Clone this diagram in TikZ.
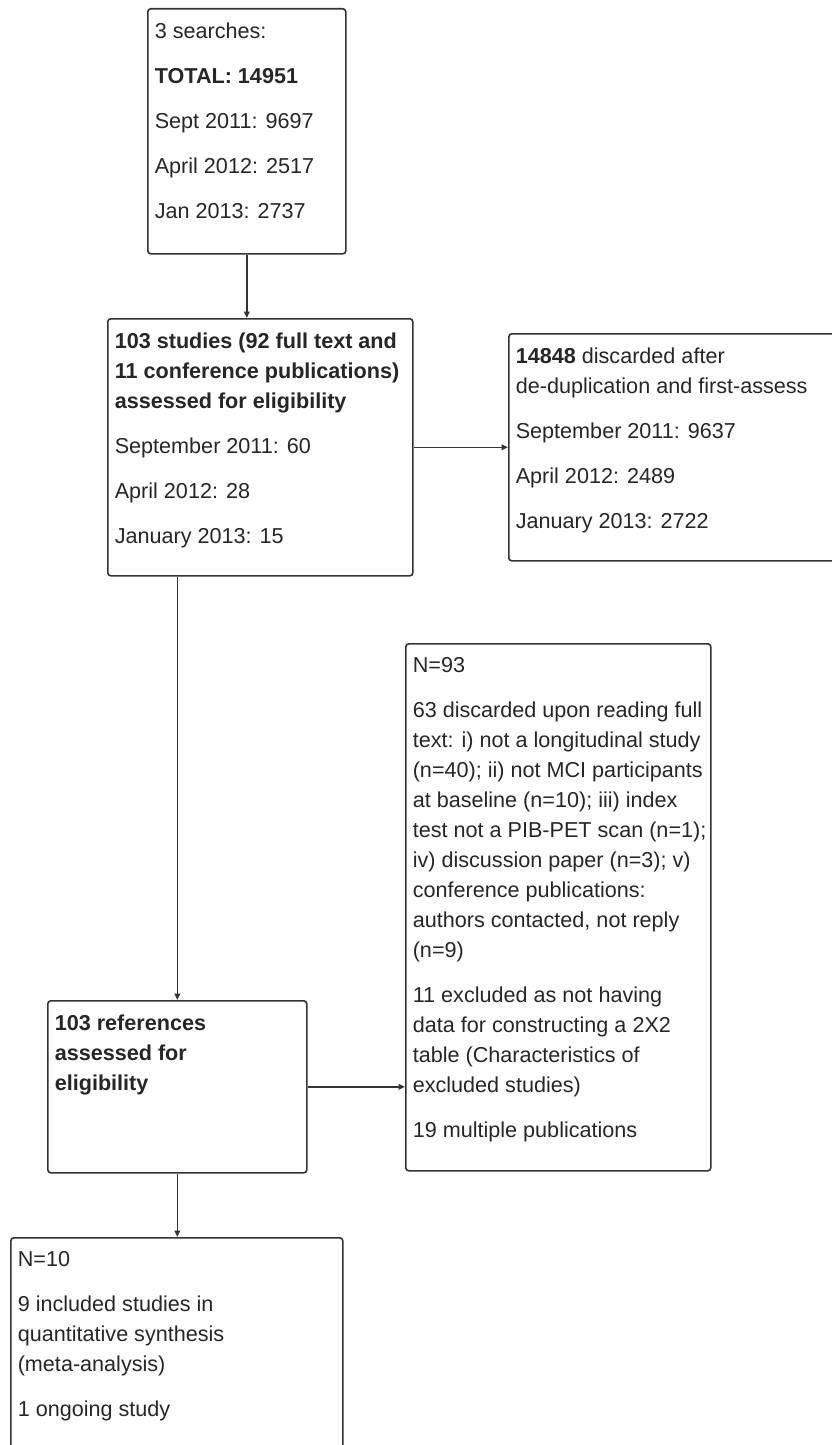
\documentclass[tikz,border=0pt]{standalone}
\usepackage{fontspec}
\setmainfont{Liberation Sans}
\usetikzlibrary{arrows.meta}

\tikzset{
  flowbox/.style={draw=black!80, line width=0.8pt, rounded corners=1.5pt, anchor=north west,
    inner xsep=3.5pt, inner ysep=7pt, text=black!85, font=\fontsize{10.8}{15}\selectfont},
  flowarrow/.style={-{Triangle[length=3.2pt,width=2.8pt]}, line width=0.8pt, draw=black!80}
}
\newcommand{\boxtext}[3]{\makebox[#1][l]{\begin{minipage}[t][#2][t]{\dimexpr#1+30pt\relax}\raggedright\setlength{\parskip}{7.5pt}#3\end{minipage}}}

\begin{document}
\begin{tikzpicture}[x=0.5pt, y=-0.5pt]
\useasboundingbox (0,0) rectangle (831,1445);

% searches
\node[flowbox] (search) at (147,8) {\boxtext{92pt}{108.5pt}{3 searches:\par
  \textbf{TOTAL: 14951}\par
  Sept 2011: 9697\par
  April 2012: 2517\par
  Jan 2013: 2737}};

% studies assessed
\node[flowbox] (studies) at (107,318) {\boxtext{145.5pt}{114.5pt}{\textbf{103 studies (92 full text and\\
  11 conference publications)\\
  assessed for eligibility}\par
  September 2011: 60\par
  April 2012: 28\par
  January 2013: 15}};

% discarded after first assess
\node[flowbox] (discard) at (508,333) {\boxtext{159pt}{99.5pt}{\textbf{14848} discarded after\\
  de-duplication and first-assess\par
  September 2011: 9637\par
  April 2012: 2489\par
  January 2013: 2722}};

% excluded on full text
\node[flowbox] (fulltext) at (405,643) {\boxtext{145.5pt}{249.5pt}{N=93\par
  63 discarded upon reading full\\
  text: i) not a longitudinal study\\
  (n=40); ii) not MCI participants\\
  at baseline (n=10); iii) index\\
  test not a PIB-PET scan (n=1);\\
  iv) discussion paper (n=3); v)\\
  conference publications:\\
  authors contacted, not reply\\
  (n=9)\par
  11 excluded as not having\\
  data for constructing a 2X2\\
  table (Characteristics of\\
  excluded studies)\par
  19 multiple publications}};

% references assessed
\node[flowbox] (refs) at (47,1000) {\boxtext{122.5pt}{72pt}{\textbf{103 references\\
  assessed for\\
  eligibility}}};

% included
\node[flowbox] (incl) at (10,1237) {\boxtext{159pt}{101pt}{N=10\par
  9 included studies in\\
  quantitative synthesis\\
  (meta-analysis)\par
  1 ongoing study}};

% connectors
\draw[flowarrow] (search.south) -- (search.south |- studies.north);
\draw[flowarrow] (studies.east) -- (studies.east -| discard.west);
\draw[flowarrow] (refs.north |- studies.south) -- (refs.north);
\draw[flowarrow] (refs.east) -- (refs.east -| fulltext.west);
\draw[flowarrow] (refs.south) -- (refs.south |- incl.north);

\end{tikzpicture}
\end{document}
